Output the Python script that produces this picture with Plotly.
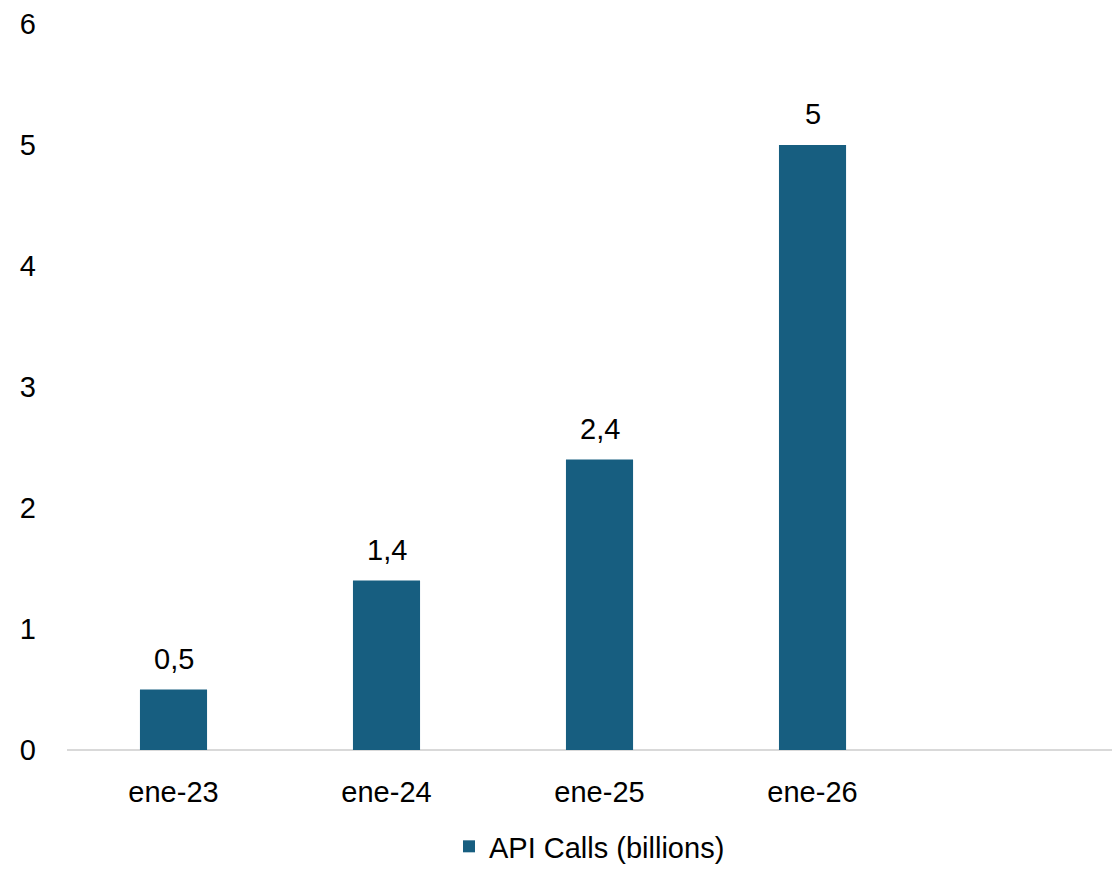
import plotly.graph_objects as go

categories = ["ene-23", "ene-24", "ene-25", "ene-26"]
values = [0.5, 1.4, 2.4, 5]
series_name = "API Calls (billions)"
y_ticks = [0, 1, 2, 3, 4, 5, 6]

FONT = "Liberation Sans"
FS = 29
BAR_COLOR = "#175E80"

def fmt(v):
    s = ("%g" % v)
    return s.replace(".", ",")

x_idx = list(range(len(categories)))

fig = go.Figure()
fig.add_trace(go.Bar(
    x=x_idx, y=values, name=series_name,
    marker=dict(color=BAR_COLOR, line=dict(width=0)),
    width=0.315, showlegend=True,
))

for xi, v in zip(x_idx, values):
    fig.add_annotation(x=xi, y=v, text=fmt(v), showarrow=False,
                       yanchor="bottom", yshift=13,
                       font=dict(family=FONT, size=FS, color="#000000"))

fig.update_layout(
    width=1112, height=869,
    margin=dict(l=67, r=0, t=24, b=119, autoexpand=False),
    paper_bgcolor="white", plot_bgcolor="white",
    separators=",.",
    font=dict(family=FONT, size=FS, color="#000000"),
    showlegend=True,
    legend=dict(orientation="h", x=0.5, xanchor="center", y=-0.168, yanchor="bottom",
                borderwidth=0, itemwidth=30,
                font=dict(family=FONT, size=FS, color="#000000")),
    xaxis=dict(range=[-0.5, 4.406], tickmode="array", tickvals=x_idx, ticktext=categories,
               showgrid=False, zeroline=False, showline=False, ticks="", automargin=False,
               tickfont=dict(family=FONT, size=FS), ticklabelstandoff=22),
    yaxis=dict(range=[0, 6], tickmode="array", tickvals=y_ticks, showgrid=False,
               zeroline=True, zerolinecolor="#D9D9D9", zerolinewidth=2, automargin=False,
               showline=False, ticks="", tickfont=dict(family=FONT, size=FS),
               ticklabelstandoff=30),
)

fig.write_html("out.html")
